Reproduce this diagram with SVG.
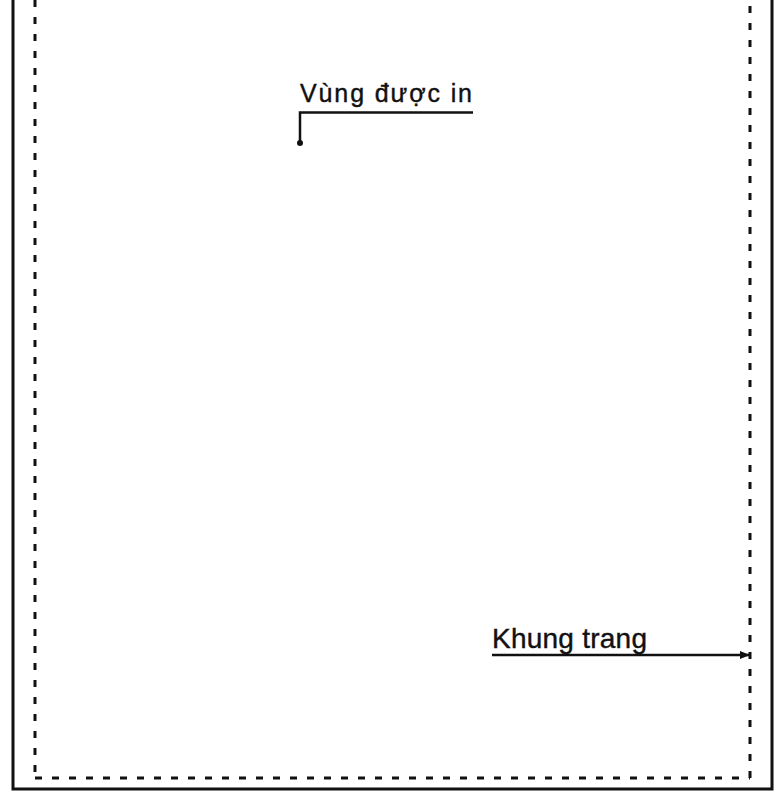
<svg xmlns="http://www.w3.org/2000/svg" width="779" height="795" viewBox="0 0 779 795">
  <style>
    .frame { fill: none; stroke: #111; stroke-width: 3; }
    .dash { fill: none; stroke: #111; stroke-width: 3; stroke-dasharray: 7 10; }
    .lead { fill: none; stroke: #111; stroke-width: 2.5; }
    .lbl { font-family: "Liberation Sans", Arial, sans-serif; fill: #111; stroke: #111; stroke-width: 0.4; }
  </style>
  <defs>
    <marker id="arr" viewBox="0 0 10 10" refX="10" refY="5" markerWidth="4" markerHeight="4" orient="auto" markerUnits="strokeWidth">
      <path d="M0,1 L10,5 L0,9 Z" fill="#111"/>
    </marker>
    <marker id="dot" viewBox="0 0 10 10" refX="5" refY="5" markerWidth="2.4" markerHeight="2.4" markerUnits="strokeWidth">
      <circle cx="5" cy="5" r="5" fill="#111"/>
    </marker>
  </defs>
  <rect width="779" height="795" fill="#ffffff"/>
  <g id="page-frame">
    <path class="frame" d="M13,0 L13,789 L772,789 L772,0"/>
  </g>
  <g id="printable-area">
    <path class="dash" d="M35,0 L35,778"/>
    <path class="dash" d="M35,778 L750,778"/>
    <path class="dash" d="M750,778 L750,0"/>
  </g>
  <g id="label-vung-duoc-in">
    <text class="lbl" x="300" y="102" font-size="25" textLength="172" lengthAdjust="spacing">Vùng được in</text>
  </g>
  <g id="label-khung-trang">
    <text class="lbl" x="492" y="648" font-size="28" textLength="155" lengthAdjust="spacing">Khung trang</text>
  </g>
  <g id="connectors">
    <path class="lead" d="M473,112.5 L300,112.5 L300,143" marker-end="url(#dot)"/>
    <path class="lead" d="M492,655 L750,655" marker-end="url(#arr)"/>
  </g>
</svg>
